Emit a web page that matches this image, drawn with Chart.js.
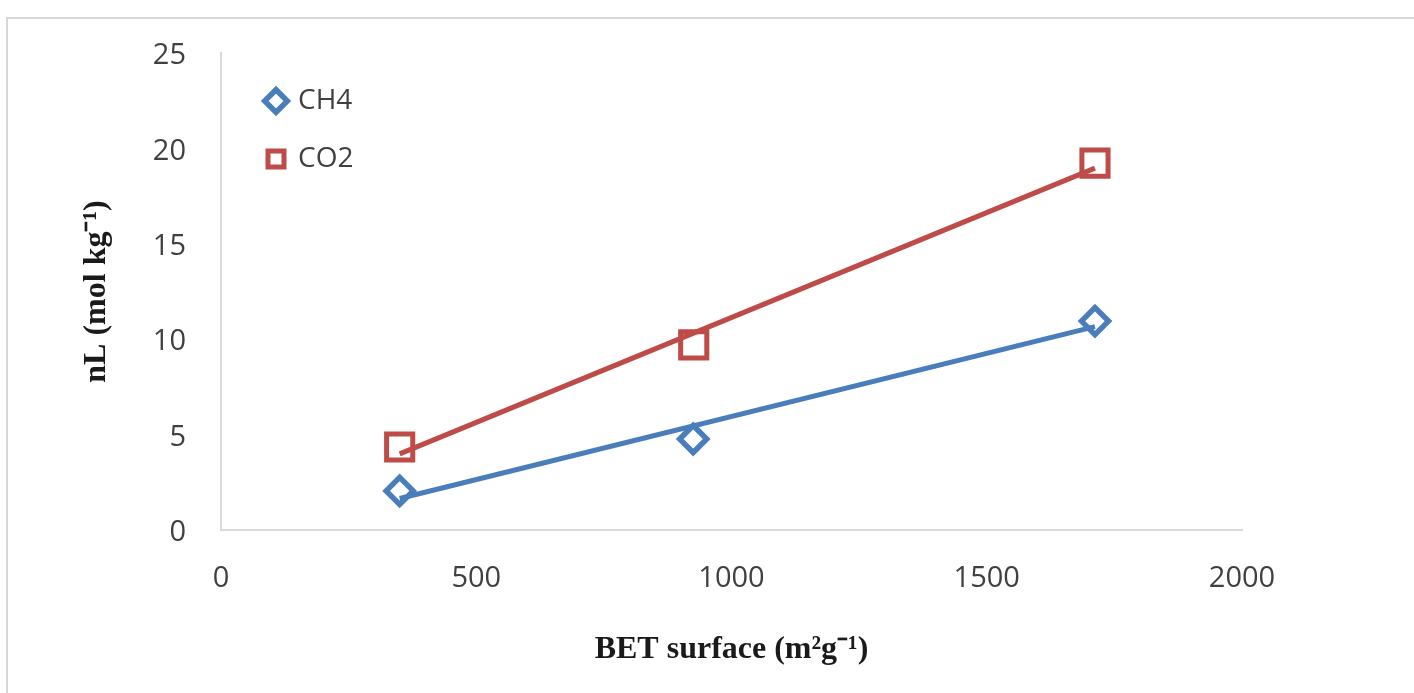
<!DOCTYPE html>
<html>
<head>
<meta charset="utf-8">
<script src="https://cdn.jsdelivr.net/npm/chart.js@4/dist/chart.umd.min.js"></script>
<style>
  body { margin: 0; background: #fff; overflow: hidden; }
  #frame { position: absolute; left: 6px; top: 17px; width: 1500px; height: 800px; border: 2px solid #d6d6d6; }
  canvas { position: absolute; left: 0; top: 0; }
</style>
</head>
<body>
<div id="frame"></div>
<canvas id="myChart" width="1414" height="693"></canvas>
<script>
// measured points (BET surface, nL)
var ch4X = [350, 925, 1712];
var ch4Y = [2.05, 4.77, 10.95];
var co2X = [350, 926, 1712];
var co2Y = [4.35, 9.70, 19.23];
var xTicks = [0, 500, 1000, 1500, 2000];
var yTicks = [0, 5, 10, 15, 20, 25];

var blue = '#4a7ebb';
var red = '#be4b48';

function points(xs, ys) {
  var out = [];
  for (var i = 0; i < xs.length; i++) out.push({ x: xs[i], y: ys[i] });
  return out;
}

// least squares trendline, from first to last x
function trend(xs, ys) {
  var n = xs.length, mx = 0, my = 0, sxy = 0, sxx = 0;
  for (var i = 0; i < n; i++) { mx += xs[i] / n; my += ys[i] / n; }
  for (var j = 0; j < n; j++) {
    sxy += (xs[j] - mx) * (ys[j] - my);
    sxx += (xs[j] - mx) * (xs[j] - mx);
  }
  var b = sxy / sxx, a = my - b * mx;
  var x0 = Math.min.apply(null, xs), x1 = Math.max.apply(null, xs);
  return [{ x: x0, y: a + b * x0 }, { x: x1, y: a + b * x1 }];
}

// nudge the legend into place inside the plot
var legendShift = {
  id: 'legendShift',
  afterLayout: function (chart) {
    chart.legend.left += 17;
    chart.legend.right += 17;
    chart.legend.top += 57;
    chart.legend.bottom += 57;
  }
};

var tickFont = { family: 'Open Sans', size: 29 };
var titleFont = { family: 'Liberation Serif', size: 32, weight: 'bold' };

function plain(v) { return String(v); }

new Chart(document.getElementById('myChart').getContext('2d'), {
  type: 'scatter',
  data: {
    datasets: [
      {
        label: 'CH4', data: points(ch4X, ch4Y), order: 2,
        pointStyle: 'rectRot', pointRadius: 13.5, pointHoverRadius: 13.5,
        borderColor: blue, backgroundColor: '#fff', pointBorderWidth: 5.5, borderWidth: 4.5
      },
      {
        label: 'CO2', data: points(co2X, co2Y), order: 2,
        pointStyle: 'rect', pointRadius: 18.5, pointHoverRadius: 18.5,
        borderColor: red, backgroundColor: '#fff', pointBorderWidth: 5, borderWidth: 4.5
      },
      {
        label: 'trend CH4', data: trend(ch4X, ch4Y), order: 1,
        showLine: true, pointRadius: 0, borderColor: blue, borderWidth: 5
      },
      {
        label: 'trend CO2', data: trend(co2X, co2Y), order: 1,
        showLine: true, pointRadius: 0, borderColor: red, borderWidth: 5
      }
    ]
  },
  options: {
    responsive: false,
    animation: false,
    layout: { padding: { top: 53, right: 172, bottom: 0, left: 0 } },
    plugins: {
      tooltip: { enabled: false },
      legend: {
        position: 'chartArea',
        align: 'start',
        labels: {
          usePointStyle: true,
          boxWidth: 16,
          boxHeight: 16,
          padding: 30,
          color: '#404040',
          font: { family: 'Open Sans', size: 28 },
          filter: function (item) { return item.text.indexOf('trend') !== 0; }
        }
      }
    },
    scales: {
      x: {
        type: 'linear', min: 0, max: 2000,
        grid: { display: false, drawTicks: false },
        border: { display: true, color: '#d9d9d9', width: 2 },
        afterBuildTicks: function (s) { s.ticks = xTicks.map(function (v) { return { value: v }; }); },
        afterFit: function (s) { s.height = 163; },
        ticks: { color: '#404040', font: tickFont, padding: 31, maxRotation: 0, callback: plain },
        title: {
          display: true, text: 'BET surface (m²g⁻¹)', color: '#1a1a1a',
          font: titleFont, padding: { top: 0, bottom: 24 }
        }
      },
      y: {
        type: 'linear', min: 0, max: 25,
        grid: { display: false, drawTicks: false },
        border: { display: true, color: '#d9d9d9', width: 2 },
        afterBuildTicks: function (s) { s.ticks = yTicks.map(function (v) { return { value: v }; }); },
        afterFit: function (s) { s.width = 221; },
        ticks: { color: '#404040', font: tickFont, padding: 35, labelOffset: 3, callback: plain },
        title: {
          display: true, text: 'nL (mol kg⁻¹)', color: '#1a1a1a',
          font: titleFont, padding: { top: 78, bottom: 0 }
        }
      }
    }
  },
  plugins: [legendShift]
});
</script>
</body>
</html>
